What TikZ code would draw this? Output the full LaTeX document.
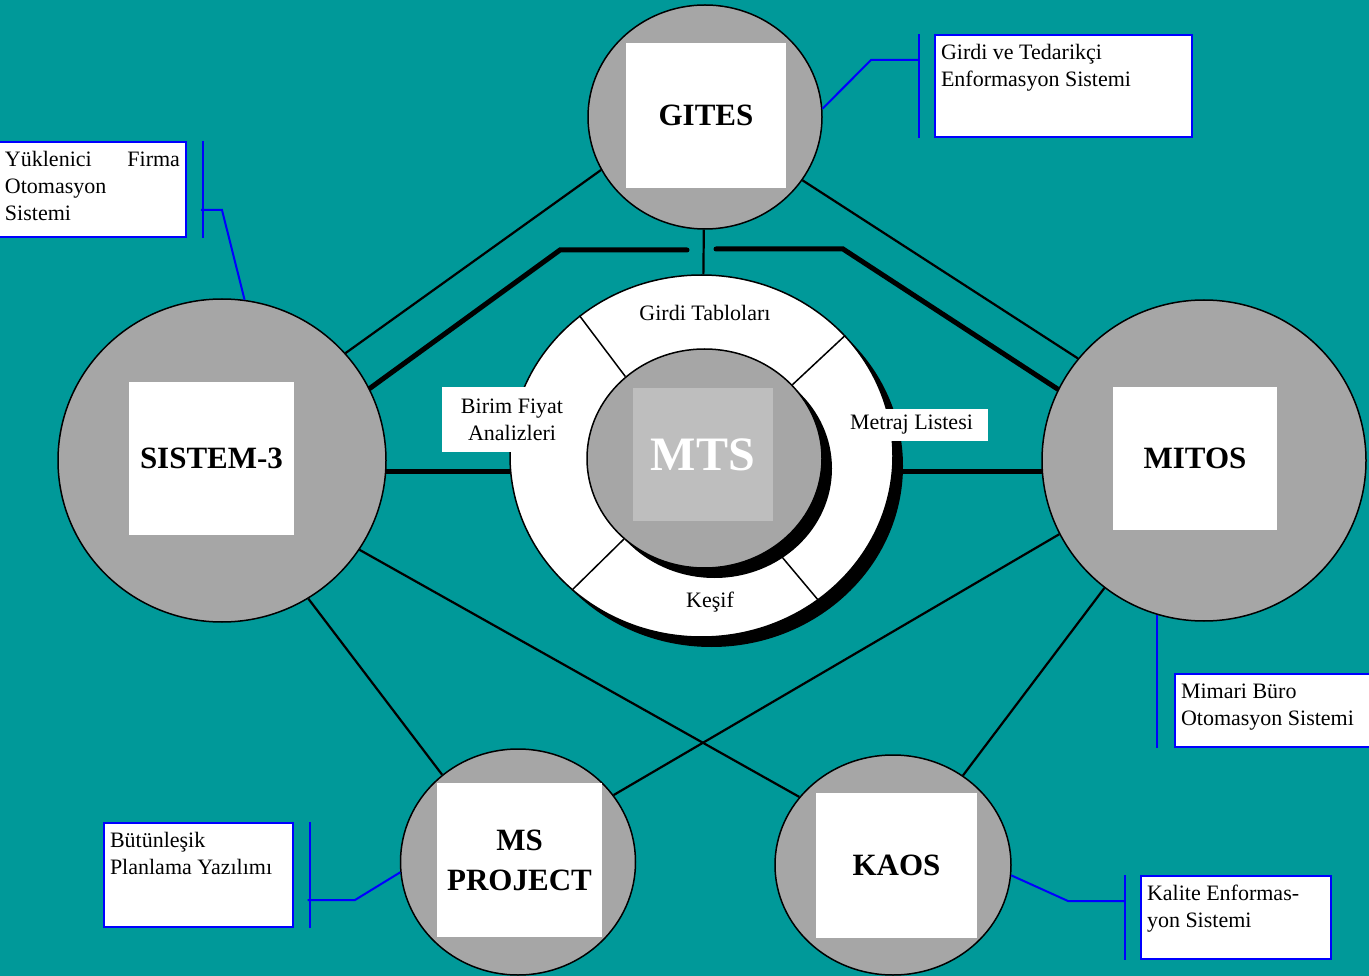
\documentclass[tikz,border=0pt]{standalone}
\usepackage{fontspec}
\setmainfont{Liberation Serif}
\usetikzlibrary{shapes.geometric,shadows}

\definecolor{sea}{RGB}{0,153,153}
\definecolor{disc}{RGB}{166,166,166}
\definecolor{pale}{RGB}{190,190,190}

\pgfdeclarelayer{wires}
\pgfsetlayers{wires,main}

\begin{document}
\begin{tikzpicture}[x=1pt, y=-1pt,
  sys/.style={ellipse, draw=black, line width=1.5pt, fill=disc, inner sep=0pt},
  sysbox/.style={rectangle, fill=white, inner sep=0pt, align=center,
    font=\fontsize{31}{40}\selectfont\bfseries},
  link/.style={line width=2.2pt},
  bus/.style={line width=5pt, line cap=round},
  note/.style={rectangle, draw=blue, fill=white, line width=2pt, anchor=north west,
    inner sep=6pt, font=\fontsize{22}{27}\selectfont},
  callout/.style={draw=blue, line width=2pt},
  small/.style={font=\fontsize{22}{27}\selectfont},
  ringshadow/.style={drop shadow={shadow xshift=10pt, shadow yshift=-10pt, fill=black, opacity=1}}]

  \begin{pgfonlayer}{wires}
    \fill[sea] (0,0) rectangle (1369,976);
  \end{pgfonlayer}
  \useasboundingbox (0,0) rectangle (1369,976);

  % systems
  \node[sys, minimum width=234pt, minimum height=224pt] (gites) at (705,117) {};
  \node[sysbox, minimum width=160pt, minimum height=145pt] (gitesbox) at (706,115.5) {GITES};

  \node[sys, minimum width=328pt, minimum height=323pt] (sis) at (222,460.5) {};
  \node[sysbox, minimum width=165pt, minimum height=153pt] (sisbox) at (211.5,458.5) {SISTEM-3};

  \node[sys, minimum width=324pt, minimum height=321pt] (mitos) at (1204,460.5) {};
  \node[sysbox, minimum width=164pt, minimum height=143pt] (mitosbox) at (1195,458.5) {MITOS};

  \node[sys, minimum width=235pt, minimum height=226pt] (msp) at (518,862) {};
  \node[sysbox, minimum width=165pt, minimum height=154pt] (mspbox) at (519.5,860) {MS\\PROJECT};

  \node[sys, minimum width=236pt, minimum height=220pt] (kaos) at (893,865) {};
  \node[sysbox, minimum width=161pt, minimum height=145pt] (kaosbox) at (896.5,865.5) {KAOS};

  % MTS
  \node[ellipse, draw, line width=1.5pt, fill=white, minimum width=383pt,
    minimum height=362pt, ringshadow] (ring) at (701.5,456) {};
  \node[ellipse, draw, line width=1.5pt, fill=disc, minimum width=235pt,
    minimum height=219pt, ringshadow] (core) at (704.5,458.5) {};
  \node[rectangle, fill=pale, minimum width=140pt, minimum height=133pt, text=white,
    font=\fontsize{48}{58}\selectfont\bfseries] (mtsbox) at (703,454.5) {MTS};

  \draw[line width=1.5pt] (core.134) -- (ring.131);
  \draw[line width=1.5pt] (core.40) -- (ring.40);
  \draw[line width=1.5pt] (core.225) -- (ring.226);
  \draw[line width=1.5pt] (core.308) -- (ring.309);

  \node[small] (girdi) at (705,313) {Girdi Tabloları};
  \node[small] (kesif) at (710,602) {Keşif};
  \node[small, fill=white, minimum width=140pt, minimum height=65pt, align=center]
    (birim) at (512,419.5) {Birim Fiyat\\Analizleri};
  \node[small, fill=white, minimum width=153pt, minimum height=32pt]
    (metraj) at (911.5,425) {Metraj Listesi};

  % connectors
  \coordinate (busL) at (560,250);
  \coordinate (busLend) at (687,250);
  \coordinate (busRend) at (716,249);
  \coordinate (busR) at (843,249);

  \begin{pgfonlayer}{wires}
    \draw[link] (gites.207) -- (sis.41);
    \draw[link] (gites.327) -- (mitos.141);
    \draw[link] (gites) -- (ring);
    \draw[link] (sis.327) -- (kaos.144);
    \draw[link] (sis.302) -- (msp.131);
    \draw[link] (mitos.207) -- (msp.35);
    \draw[link] (mitos.232) -- (kaos.52);

    \draw[bus] (sis.26) -- (busL) -- (busLend);
    \draw[bus] (busRend) -- (busR) -- (mitos.154);
    \draw[bus] (sis.356) -- (sis.356 -| ring.center);
    \draw[bus] (mitos.184 -| ring.center) -- (mitos.184);
  \end{pgfonlayer}

  % notes
  \node[note] (gitesnote) at (934,34)
    {\parbox[t][90pt][t]{245pt}{\strut Girdi ve Tedarikçi\\Enformasyon Sistemi}};
  \draw[callout] ([xshift=-15pt]gitesnote.north west) -- ([xshift=-15pt]gitesnote.south west);
  \coordinate (gitesfoot) at (919,60);
  \coordinate (gitesbend) at (871,60);
  \draw[callout] (gitesfoot) -- (gitesbend) -- (gites.4);

  \node[note] (sisnote) at (-2,141)
    {\parbox[t][83pt][t]{175pt}{\strut Yüklenici\hfill Firma\\Otomasyon\\Sistemi}};
  \draw[callout] ([xshift=16pt]sisnote.north east) -- ([xshift=16pt]sisnote.south east);
  \coordinate (sisfoot) at (201,210);
  \coordinate (sisbend) at (222,210);
  \draw[callout] (sisfoot) -- (sisbend) -- (sis.82);

  \node[note] (mitosnote) at (1174,673)
    {\parbox[t][61pt][t]{200pt}{\strut Mimari Büro\\Otomasyon Sistemi}};
  \draw[callout] (mitos.253) -- (mitos.253 |- mitosnote.south);

  \node[note] (mspnote) at (103,822)
    {\parbox[t][92pt][t]{177pt}{\strut Bütünleşik\\Planlama Yazılımı}};
  \draw[callout] ([xshift=16pt]mspnote.north east) -- ([xshift=16pt]mspnote.south east);
  \coordinate (mspfoot) at (307.5,900);
  \coordinate (mspbend) at (355,900);
  \draw[callout] (mspfoot) -- (mspbend) -- (msp.185);

  \node[note] (kaosnote) at (1140,875)
    {\parbox[t][71pt][t]{178pt}{\strut Kalite Enformas-\\yon Sistemi}};
  \draw[callout] ([xshift=-15pt]kaosnote.north west) -- ([xshift=-15pt]kaosnote.south west);
  \coordinate (kaosfoot) at (1125,901);
  \coordinate (kaosbend) at (1068,901);
  \draw[callout] (kaosfoot) -- (kaosbend) -- (kaos.355);

\end{tikzpicture}
\end{document}
